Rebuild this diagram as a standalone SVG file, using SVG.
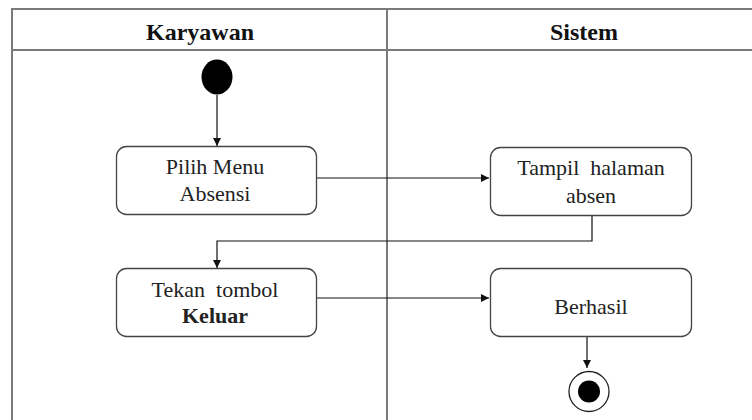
<svg xmlns="http://www.w3.org/2000/svg" width="752" height="420" viewBox="0 0 752 420">
<style>
.frame{fill:none;stroke:#7a7a7a;stroke-width:2}
.hdr{font-weight:bold;font-size:24px;fill:#111;text-anchor:middle}
.node{fill:#fff;stroke:#444;stroke-width:1.3}
.lbl{font-size:22px;fill:#222;text-anchor:middle}
.conn{fill:none;stroke:#111;stroke-width:1.2}
</style>
<defs>
<marker id="arr" viewBox="0 0 10 10" refX="10" refY="5" markerWidth="8" markerHeight="8" markerUnits="userSpaceOnUse" orient="auto">
<path d="M0,0 L10,5 L0,10 z" fill="#111"/>
</marker>
</defs>
<rect width="752" height="420" fill="#fff"/>
<g id="swimlanes" font-family="Liberation Serif, DejaVu Serif, serif">
<path class="frame" d="M12,420 V9 H752 M12,50 H752 M387,9 V420"/>
<text class="hdr" x="200" y="40">Karyawan</text>
<text class="hdr" x="584" y="40">Sistem</text>
</g>
<g id="connectors">
<path class="conn" d="M217,95 V146" marker-end="url(#arr)"/>
<path class="conn" d="M317,178 H489" marker-end="url(#arr)"/>
<path class="conn" d="M592,216 V241 H217 V268" marker-end="url(#arr)"/>
<path class="conn" d="M317,298 H489" marker-end="url(#arr)"/>
<path class="conn" d="M587,336 V368" marker-end="url(#arr)"/>
</g>
<g id="start"><ellipse cx="217" cy="77" rx="15.5" ry="17.5" fill="#000"/></g>
<g id="pilih-menu" font-family="Liberation Serif, DejaVu Serif, serif">
<rect class="node" x="116.5" y="146.5" width="200" height="68" rx="10"/>
<text class="lbl" x="215" y="174">Pilih Menu</text>
<text class="lbl" x="215" y="201">Absensi</text>
</g>
<g id="tampil-halaman" font-family="Liberation Serif, DejaVu Serif, serif">
<rect class="node" x="490.5" y="147.5" width="201" height="68" rx="10"/>
<text class="lbl" x="591" y="175" xml:space="preserve">Tampil  halaman</text>
<text class="lbl" x="591" y="203">absen</text>
</g>
<g id="tekan-tombol" font-family="Liberation Serif, DejaVu Serif, serif">
<rect class="node" x="116.5" y="268.5" width="200" height="68" rx="10"/>
<text class="lbl" x="215" y="297" xml:space="preserve">Tekan  tombol</text>
<text class="lbl" x="215" y="323" font-weight="bold">Keluar</text>
</g>
<g id="berhasil" font-family="Liberation Serif, DejaVu Serif, serif">
<rect class="node" x="490.5" y="268.5" width="201" height="68" rx="10"/>
<text class="lbl" x="591" y="314">Berhasil</text>
</g>
<g id="end">
<circle cx="589" cy="391.5" r="20" fill="#fff" stroke="#222" stroke-width="1.3"/>
<circle cx="589" cy="391.5" r="11" fill="#000"/>
</g>
</svg>
